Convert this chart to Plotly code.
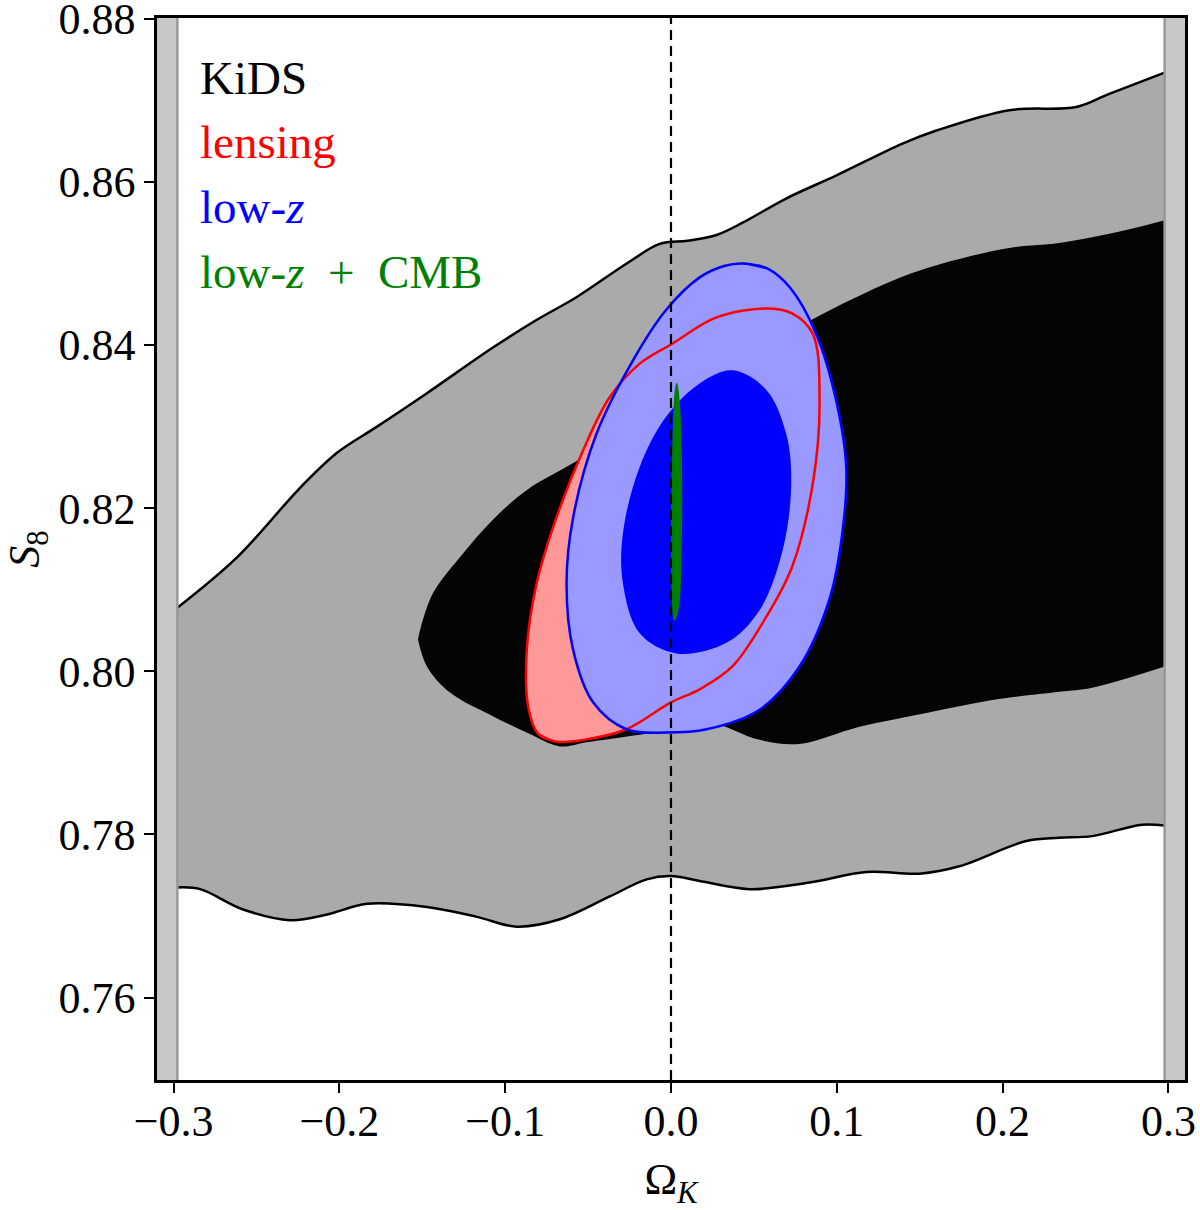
import plotly.graph_objects as go

# ---------------- data ----------------
prior_edge = 0.2977

# KiDS outer (95%) contour: upper and lower boundaries
kids95_upper_x = [-0.2977, -0.2616, -0.2237, -0.2014, -0.1773, -0.1472, -0.1074, -0.0809, -0.0568,
                  -0.0267, -0.0068, 0.0100, 0.0275, 0.0432, 0.0697, 0.0998, 0.1396, 0.1601, 0.2040,
                  0.2444, 0.2643, 0.2977]
kids95_upper_y = [0.8078, 0.8140, 0.8225, 0.8268, 0.8300, 0.8341, 0.8397, 0.8431, 0.8459,
                  0.8500, 0.8524, 0.8528, 0.8535, 0.8550, 0.8580, 0.8608, 0.8647, 0.8663, 0.8688,
                  0.8692, 0.8708, 0.8734]
kids95_lower_x = [-0.2977, -0.2840, -0.2580, -0.2297, -0.2074, -0.1833, -0.1472, -0.1170, -0.0930,
                  -0.0670, -0.0369, -0.0147, 0.0, 0.0173, 0.0474, 0.0835, 0.1178, 0.1498,
                  0.1739, 0.2142, 0.2341, 0.2540, 0.2841, 0.2977]
kids95_lower_y = [0.7735, 0.7733, 0.7708, 0.7695, 0.7702, 0.7715, 0.7711, 0.7699, 0.7687,
                  0.7696, 0.7724, 0.7745, 0.7749, 0.7743, 0.7733, 0.7741, 0.7754, 0.7752,
                  0.7761, 0.7792, 0.7796, 0.7798, 0.7812, 0.7811]

# KiDS inner (68%) contour
kids68_upper_x = [-0.1526, -0.1513, -0.1435, -0.1273, -0.1074, -0.0871, -0.0592, -0.0300, 0.0,
                  0.0300, 0.0600, 0.0877, 0.1336, 0.1637, 0.2040, 0.2341, 0.2745, 0.2977]
kids68_upper_y = [0.8039, 0.8051, 0.8096, 0.8140, 0.8186, 0.8222, 0.8255, 0.8290, 0.8320,
                  0.8360, 0.8400, 0.8434, 0.8479, 0.8500, 0.8519, 0.8525, 0.8541, 0.8553]
kids68_lower_x = [-0.1526, -0.1472, -0.1333, -0.1074, -0.0870, -0.0670, -0.0510, -0.0200, 0.0,
                  0.0233, 0.0534, 0.0775, 0.1137, 0.1540, 0.1938, 0.2341, 0.2540, 0.2977]
kids68_lower_y = [0.8039, 0.8006, 0.7974, 0.7945, 0.7925, 0.7908, 0.7913, 0.7922, 0.7928,
                  0.7937, 0.7916, 0.7911, 0.7932, 0.7949, 0.7965, 0.7975, 0.7980, 0.8006]

# lensing contour (closed loop)
lens_x = [-0.0800, -0.0700, -0.0530, -0.0270, 0.0, 0.0173, 0.0370, 0.0575, 0.0730, 0.0855,
          0.0896, 0.0855, 0.0730, 0.0575, 0.0274, 0.0010, -0.0190, -0.0370, -0.0530, -0.0690,
          -0.0810, -0.0870, -0.0860]
lens_y = [0.7923, 0.7914, 0.7916, 0.7929, 0.7962, 0.7978, 0.8006, 0.8067, 0.8128, 0.8230,
          0.8332, 0.8414, 0.8439, 0.8445, 0.8434, 0.8402, 0.8377, 0.8336, 0.8271, 0.8189,
          0.8108, 0.8026, 0.7955]

# low-z outer (95%) contour
lowz95_x = [0.0433, 0.0580, 0.0720, 0.0875, 0.0996, 0.1057, 0.1033, 0.0955, 0.0775, 0.0534,
            0.0215, -0.0026, -0.0270, -0.0470, -0.0590, -0.0630, -0.0590, -0.0450, -0.0230,
            -0.0030, 0.0173, 0.0320]
lowz95_y = [0.8500, 0.8494, 0.8470, 0.8414, 0.8332, 0.8250, 0.8169, 0.8088, 0.8006, 0.7953,
            0.7929, 0.7925, 0.7929, 0.7962, 0.8026, 0.8108, 0.8189, 0.8291, 0.8381,
            0.8443, 0.8483, 0.8497]

# low-z inner (68%) contour
lowz68_x = [0.0370, 0.0575, 0.0695, 0.0725, 0.0674, 0.0534, 0.0334, 0.0032, -0.0190, -0.0290,
            -0.0290, -0.0190, -0.0030, 0.0173]
lowz68_y = [0.8369, 0.8345, 0.8291, 0.8230, 0.8149, 0.8075, 0.8035, 0.8022, 0.8047, 0.8108,
            0.8169, 0.8250, 0.8312, 0.8353]

# low-z + CMB contour
cmb_x = [0.0035, 0.0052, 0.0062, 0.0060, 0.0045, 0.0020, 0.0008, 0.0006, 0.0014, 0.0025]
cmb_y = [0.8353, 0.8320, 0.8250, 0.8150, 0.8080, 0.8063, 0.8100, 0.8200, 0.8290, 0.8340]

x_ticks = [-0.3, -0.2, -0.1, 0.0, 0.1, 0.2, 0.3]
y_ticks = [0.76, 0.78, 0.80, 0.82, 0.84, 0.86, 0.88]

labels = ["KiDS", "lensing", "low-<i>z</i>", "low-<i>z</i>\u2002+\u2002CMB"]
label_colors = ["#000000", "#ff0000", "#0000ff", "#008000"]

# ---------------- figure ----------------
FONT = "Liberation Serif"
fig = go.Figure()

SPL = dict(shape="spline", smoothing=1)

# KiDS 95% band: filled between smoothed lower and upper boundaries
fig.add_trace(go.Scatter(x=kids95_lower_x, y=kids95_lower_y, mode="lines",
                         line=dict(width=0, color="rgba(0,0,0,0)", **SPL), hoverinfo="skip"))
fig.add_trace(go.Scatter(x=kids95_upper_x, y=kids95_upper_y, mode="lines", fill="tonexty",
                         fillcolor="#aaaaaa", line=dict(width=0, color="rgba(0,0,0,0)", **SPL),
                         hoverinfo="skip"))
# KiDS 68% region
fig.add_trace(go.Scatter(x=kids68_lower_x, y=kids68_lower_y, mode="lines",
                         line=dict(width=0, color="rgba(0,0,0,0)", **SPL), hoverinfo="skip"))
fig.add_trace(go.Scatter(x=kids68_upper_x, y=kids68_upper_y, mode="lines", fill="tonexty",
                         fillcolor="#040404", line=dict(width=0, color="rgba(0,0,0,0)", **SPL),
                         hoverinfo="skip"))
# KiDS 95% outlines
for bx, by in [(kids95_upper_x, kids95_upper_y), (kids95_lower_x, kids95_lower_y)]:
    fig.add_trace(go.Scatter(x=bx, y=by, mode="lines",
                             line=dict(color="black", width=2.5, **SPL), hoverinfo="skip"))

# lensing fill
fig.add_trace(go.Scatter(x=lens_x + lens_x[:1], y=lens_y + lens_y[:1], mode="lines", fill="toself",
                         fillcolor="#ff9999", line=dict(width=0, **SPL), hoverinfo="skip"))
# low-z fills
fig.add_trace(go.Scatter(x=lowz95_x + lowz95_x[:1], y=lowz95_y + lowz95_y[:1], mode="lines",
                         fill="toself", fillcolor="#9999ff", line=dict(width=0, **SPL),
                         hoverinfo="skip"))
fig.add_trace(go.Scatter(x=lowz68_x + lowz68_x[:1], y=lowz68_y + lowz68_y[:1], mode="lines",
                         fill="toself", fillcolor="#0000ff", line=dict(width=0, **SPL),
                         hoverinfo="skip"))
# outlines
fig.add_trace(go.Scatter(x=lens_x + lens_x[:2], y=lens_y + lens_y[:2], mode="lines",
                         line=dict(color="#ff0000", width=2.5, **SPL), hoverinfo="skip"))
fig.add_trace(go.Scatter(x=lowz95_x + lowz95_x[:2], y=lowz95_y + lowz95_y[:2], mode="lines",
                         line=dict(color="#0000ff", width=2.5, **SPL), hoverinfo="skip"))
# low-z + CMB
fig.add_trace(go.Scatter(x=cmb_x + cmb_x[:1], y=cmb_y + cmb_y[:1], mode="lines", fill="toself",
                         fillcolor="#008000", line=dict(color="#008000", width=1.5, **SPL),
                         hoverinfo="skip"))

# prior bands
for x0, x1, edge in [(-0.32, -prior_edge, -prior_edge), (prior_edge, 0.32, prior_edge)]:
    fig.add_shape(type="rect", xref="x", yref="paper", x0=x0, x1=x1, y0=0, y1=1,
                  fillcolor="#c8c8c8", line=dict(width=0), layer="above")
    fig.add_shape(type="line", xref="x", yref="paper", x0=edge, x1=edge, y0=0, y1=1,
                  line=dict(color="#999999", width=2.5), layer="above")

# dashed line at Omega_K = 0
fig.add_shape(type="line", xref="x", yref="paper", x0=0, x1=0, y0=0, y1=1,
              line=dict(color="black", width=2.2, dash="10px,6px"), layer="above")

# labels
label_y = [0.9435, 0.8832, 0.822, 0.7608]
for txt, col, yy in zip(labels, label_colors, label_y):
    fig.add_annotation(text=txt, x=0.040, y=yy, xref="paper", yref="paper",
                       xanchor="left", yanchor="middle", showarrow=False,
                       font=dict(family=FONT, size=47, color=col))

fig.update_layout(
    width=1200, height=1210,
    margin=dict(l=157, r=15, t=18, b=130, autoexpand=False),
    plot_bgcolor="white", paper_bgcolor="white",
    showlegend=False,
    font=dict(family=FONT, size=44, color="black"),
)
fig.update_xaxes(range=[-0.31, 0.31], tickvals=x_ticks, tickformat=".1f",
                 ticklabeloverflow="allow", automargin=False, ticklabelstandoff=-10,
                 showgrid=False, zeroline=False, showline=True, linecolor="black", linewidth=2.5,
                 mirror=True, ticks="outside", ticklen=10, tickwidth=2, tickcolor="black",
                 title=dict(text="Ω<sub><i>K</i></sub>", standoff=34, font=dict(size=44)))
fig.update_yaxes(range=[0.7499, 0.8801], tickvals=y_ticks, tickformat=".2f",
                 ticklabeloverflow="allow", automargin=False,
                 showgrid=False, zeroline=False, showline=True, linecolor="black", linewidth=2.5,
                 mirror=True, ticks="outside", ticklen=10, tickwidth=2, tickcolor="black",
                 title=dict(text="<i>S</i><sub>8</sub>", standoff=8, font=dict(size=44)))

fig.write_html("out.html")
